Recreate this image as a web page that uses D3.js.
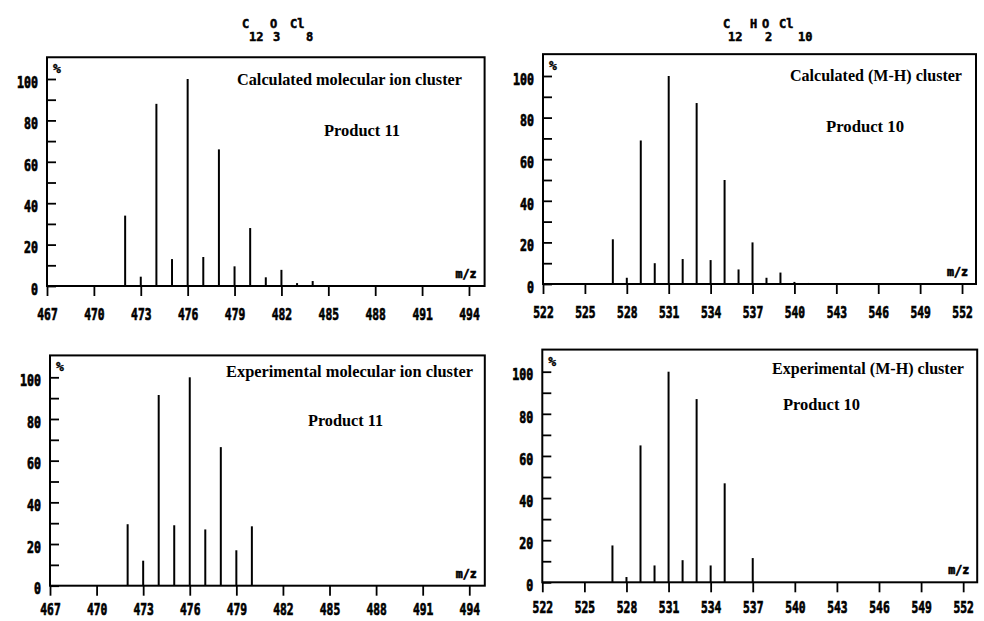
<!DOCTYPE html>
<html>
<head>
<meta charset="utf-8">
<script src="https://cdn.jsdelivr.net/npm/d3@7"></script>
<style>
  html, body { margin: 0; padding: 0; background: #fff; }
  svg { display: block; }
</style>
</head>
<body>
<script>
// ---------------- DATA ----------------
// Calculated molecular ion cluster, C12 O3 Cl8 (Product 11)
const mzCalcMol  = [472, 473, 474, 475, 476, 477, 478, 479, 480, 481, 482, 483, 484];
const intCalcMol = [34, 4.5, 88, 13, 100, 14, 66, 9.5, 28, 4.2, 7.8, 1.4, 2.4];

// Calculated (M-H) cluster, C12 H O2 Cl10 (Product 10)
const mzCalcMH  = [527, 528, 529, 530, 531, 532, 533, 534, 535, 536, 537, 538, 539, 540, 541];
const intCalcMH = [21.5, 3, 69, 10, 100, 12, 87, 11.5, 50, 7, 20, 3, 5.5, 1, 0.5];

// Experimental molecular ion cluster (Product 11)
const mzExpMol  = [472, 473, 474, 475, 476, 477, 478, 479, 480];
const intExpMol = [29.5, 12, 91.5, 29, 100, 27, 66.5, 17, 28.5];

// Experimental (M-H) cluster (Product 10)
const mzExpMH  = [527, 528, 529, 530, 531, 532, 533, 534, 535, 537];
const intExpMH = [17.5, 2.5, 65, 8, 100, 10.5, 87, 8, 47, 11.5];

// Tick labels
const xTicksMol = [467, 470, 473, 476, 479, 482, 485, 488, 491, 494];
const xTicksMH  = [522, 525, 528, 531, 534, 537, 540, 543, 546, 549, 552];
const yLabels   = [0, 20, 40, 60, 80, 100];
const yMinor    = [0, 10, 20, 30, 40, 50, 60, 70, 80, 90, 100];

// Texts
const titleMol = [["C", "12"], ["O", "3"], ["Cl", "8"]];
const titleMH  = [["C", "12"], ["H", ""], ["O", "2"], ["Cl", "10"]];

// ---------------- LAYOUT ----------------
const panels = [
  { mz: mzCalcMol, val: intCalcMol, ticks: xTicksMol, xDom: [467, 495], xRange: [47, 484.6], yRange: [286, 79], pad: 13,
    text1: "Calculated molecular ion cluster", t1: [237, 85, 225],
    text2: "Product 11", t2: [324, 136, 76] },
  { mz: mzCalcMH, val: intCalcMH, ticks: xTicksMH, xDom: [522, 553], xRange: [543, 976], yRange: [284, 76], pad: 13,
    text1: "Calculated (M-H) cluster", t1: [790, 81, 172],
    text2: "Product 10", t2: [826, 132, 78] },
  { mz: mzExpMol, val: intExpMol, ticks: xTicksMol, xDom: [467, 495], xRange: [50, 484.8], yRange: [585.7, 377.3], pad: 8,
    text1: "Experimental molecular ion cluster", t1: [226, 377, 247],
    text2: "Product 11", t2: [308, 426, 75] },
  { mz: mzExpMH, val: intExpMH, ticks: xTicksMH, xDom: [522, 553], xRange: [542.3, 977.2], yRange: [582.3, 371.7], pad: 10,
    text1: "Experimental (M-H) cluster", t1: [772, 374, 192],
    text2: "Product 10", t2: [783, 410, 77] }
];

const MONO = "'DejaVu Sans Mono', 'Liberation Mono', monospace";
const SERIF = "'Liberation Serif', 'Times New Roman', serif";

const svg = d3.select("body").append("svg")
  .attr("width", 984).attr("height", 621)
  .style("background", "#fff");

function heavyMono(sel, size) {
  sel.style("font-family", MONO).style("font-size", size + "px").style("font-weight", "700")
    .attr("fill", "#000").attr("stroke", "#000").attr("stroke-width", 0.7);
}

panels.forEach(p => {
  const x = d3.scaleLinear().domain(p.xDom).range(p.xRange);
  const y = d3.scaleLinear().domain([0, 100]).range(p.yRange);
  const g = svg.append("g");
  const x0 = x(p.xDom[0]), x1 = x(p.xDom[1]);
  const yTop = y(110.5), yBase = y(0);

  // frame
  g.append("rect")
    .attr("x", x0).attr("y", yTop)
    .attr("width", x1 - x0).attr("height", yBase - yTop)
    .attr("fill", "none").attr("stroke", "#000").attr("stroke-width", 2);

  // inward minor y ticks
  const yt = g.append("g").attr("transform", `translate(${x0},0)`)
    .call(d3.axisRight(y).tickValues(yMinor).tickSize(9).tickFormat(""));
  yt.select(".domain").remove();
  yt.selectAll("line").attr("stroke", "#000").attr("stroke-width", 1.8);

  // y labels
  const yl = g.append("g").attr("transform", `translate(${x0},0)`)
    .call(d3.axisLeft(y).tickValues(yLabels).tickSize(0).tickPadding(9).tickFormat(d3.format("d")));
  yl.select(".domain").remove();
  yl.selectAll("text")
    .call(heavyMono, 15)
    .attr("dy", "0.55em")
    .attr("textLength", d => String(d).length * 7)
    .attr("lengthAdjust", "spacingAndGlyphs");

  // x axis
  const xa = g.append("g").attr("transform", `translate(0,${yBase})`)
    .call(d3.axisBottom(x).tickValues(p.ticks).tickSize(10).tickPadding(p.pad).tickFormat(d3.format("d")));
  xa.select(".domain").remove();
  xa.selectAll("line").attr("stroke", "#000").attr("stroke-width", 1.8);
  xa.selectAll("text")
    .call(heavyMono, 16)
    .attr("dy", "0.68em")
    .attr("textLength", d => String(d).length * 6.8)
    .attr("lengthAdjust", "spacingAndGlyphs");

  // bars (stick spectrum)
  g.append("g").selectAll("line")
    .data(p.mz.map((m, i) => ({ m, v: p.val[i] })))
    .join("line")
    .attr("x1", d => x(d.m)).attr("x2", d => x(d.m))
    .attr("y1", yBase).attr("y2", d => y(d.v))
    .attr("stroke", "#000").attr("stroke-width", 2);

  // % and m/z labels
  g.append("text").attr("x", x0 + 6).attr("y", yTop + 16)
    .call(heavyMono, 13)
    .attr("stroke-width", 0.4)
    .text("%");
  g.append("text").attr("x", x1 - 29).attr("y", yBase - 8)
    .call(heavyMono, 13)
    .attr("textLength", 21).attr("lengthAdjust", "spacingAndGlyphs")
    .text("m/z");

  // inside texts
  [[p.text1, p.t1], [p.text2, p.t2]].forEach(([t, pos]) => {
    g.append("text").attr("x", pos[0]).attr("y", pos[1])
      .style("font-family", SERIF).style("font-size", "16px").style("font-weight", "700")
      .attr("textLength", pos[2]).attr("lengthAdjust", "spacingAndGlyphs")
      .text(t);
  });
});

// formula titles
function formula(parts, xs, subXs) {
  const g = svg.append("g");
  parts.forEach((pr, i) => {
    g.append("text").attr("x", xs[i]).attr("y", 28).call(heavyMono, 12).attr("stroke-width", 0.5).text(pr[0]);
    if (pr[1]) g.append("text").attr("x", subXs[i]).attr("y", 41).call(heavyMono, 12).attr("stroke-width", 0.5).text(pr[1]);
  });
}
formula(titleMol, [242, 270, 290], [249, 273, 306]);
formula(titleMH, [723, 750, 762, 779], [728, 0, 765, 798]);
</script>
</body>
</html>
